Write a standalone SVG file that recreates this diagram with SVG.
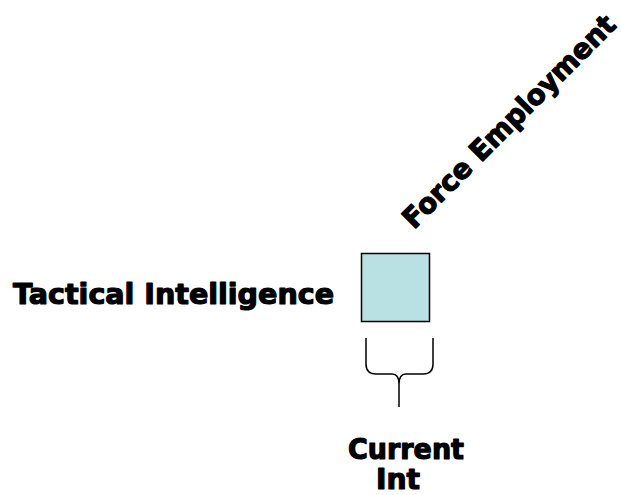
<svg xmlns="http://www.w3.org/2000/svg" width="621" height="495" viewBox="0 0 621 495">
<style>
.t{font-family:"Arial Black","DejaVu Sans",sans-serif;font-weight:900;font-size:28px;fill:#000;stroke:#000;stroke-width:1.2;stroke-linejoin:round}
</style>
<rect width="621" height="495" fill="#fff"/>
<g id="box">
<rect x="361.5" y="253.5" width="68" height="68" fill="#b9e0e2" stroke="#000" stroke-width="1.5"/>
</g>
<g id="label-tactical">
<text class="t" x="13" y="304" textLength="321" lengthAdjust="spacingAndGlyphs">Tactical Intelligence</text>
</g>
<g id="label-force">
<text class="t" transform="translate(414,230) rotate(-45)" x="0" y="0" textLength="288" lengthAdjust="spacingAndGlyphs">Force Employment</text>
</g>
<g id="label-current">
<text class="t" x="348" y="459" textLength="116" lengthAdjust="spacingAndGlyphs">Current</text>
<text class="t" x="376" y="489" textLength="44" lengthAdjust="spacingAndGlyphs">Int</text>
</g>
<g id="connectors">
<path d="M366,338 V364 Q366,374 376,374 H392 Q399,374 399,384 V407 M399,384 Q399,374 406,374 H423 Q433,374 433,364 V338" fill="none" stroke="#000" stroke-width="1.5"/>
</g>
</svg>
